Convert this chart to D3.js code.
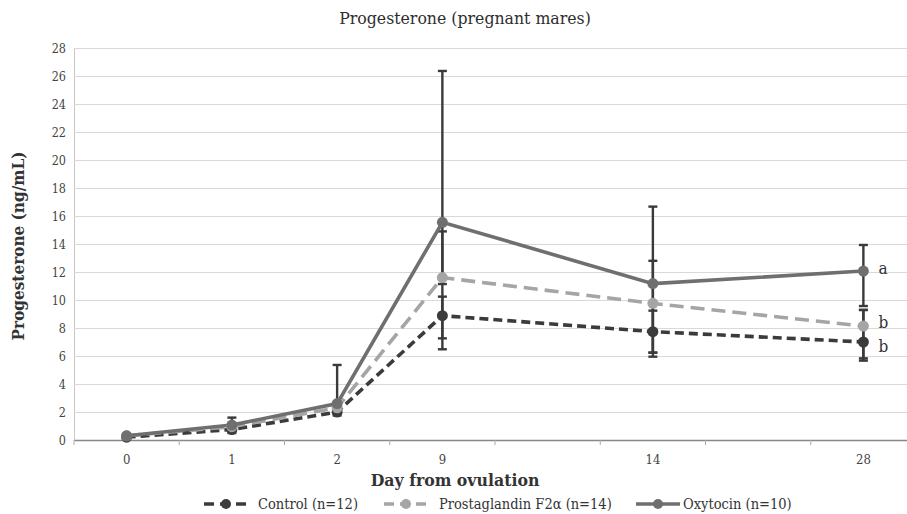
<!DOCTYPE html>
<html>
<head>
<meta charset="utf-8">
<script src="https://cdn.jsdelivr.net/npm/d3@7"></script>
<style>
  body { margin: 0; background: #fff; }
  svg { display: block; }
</style>
</head>
<body>
<div id="chart"></div>
<script>
const WIDTH = 907
const HEIGHT = 514
const FONT = '"DejaVu Serif Condensed", "DejaVu Serif", serif'

// category slots of the original axis (blank slots keep the spacing)
const slots = ['0', '1', '2', '9', '', '14', '', '28']
const days = ['0', '1', '2', '9', '14', '28']
const yTicks = [0, 2, 4, 6, 8, 10, 12, 14, 16, 18, 20, 22, 24, 26, 28]

const control = [0.2, 0.75, 2.0, 8.88, 7.74, 7.0]
const prostaglandin = [0.3, 0.95, 2.3, 11.6, 9.76, 8.14]
const oxytocin = [0.3, 1.07, 2.6, 15.55, 11.17, 12.07]

// error bar ends (null = no bar)
const controlLo = [null, 0.5, 1.75, 6.48, 6.24, 5.67]
const controlHi = [null, null, null, 10.24, 9.24, 9.29]
const prostaglandinLo = [null, null, null, 7.26, 5.95, 5.83]
const prostaglandinHi = [null, null, null, 14.9, 12.8, 9.29]
const oxytocinLo = [null, null, null, 11.14, 6.24, 9.57]
const oxytocinHi = [0.45, 1.6, 5.36, 26.36, 16.67, 13.93]

const seriesNames = ['Control (n=12)', 'Prostaglandin F2α (n=14)', 'Oxytocin (n=10)']
const day28Letters = ['b', 'b', 'a']

const series = [
    { name: seriesNames[0], values: control, lo: controlLo, hi: controlHi, color: '#3b3b3b', dash: '9,5', letter: day28Letters[0], letterDy: 10 },
    { name: seriesNames[1], values: prostaglandin, lo: prostaglandinLo, hi: prostaglandinHi, color: '#a5a5a5', dash: '14,7', letter: day28Letters[1], letterDy: 2 },
    { name: seriesNames[2], values: oxytocin, lo: oxytocinLo, hi: oxytocinHi, color: '#6f6f6f', dash: null, letter: day28Letters[2], letterDy: 3 }
]

const margin = { top: 48, right: -9, bottom: 74, left: 74 }
const x = d3.scaleBand()
    .domain(d3.range(slots.length))
    .range([margin.left, WIDTH - margin.right])
const y = d3.scaleLinear()
    .domain([0, 28])
    .range([HEIGHT - margin.bottom, margin.top])

const xDay = d => x(slots.indexOf(d)) + x.bandwidth() / 2

const svg = d3.select('#chart').append('svg')
    .attr('width', WIDTH)
    .attr('height', HEIGHT)
    .style('font-family', FONT)

// title
svg.append('text')
    .attr('x', 465)
    .attr('y', 24)
    .attr('text-anchor', 'middle')
    .attr('font-size', 17.5)
    .attr('fill', '#2e2e2e')
    .text('Progesterone (pregnant mares)')

// gridlines + y axis
const yAxis = svg.append('g')
    .attr('transform', `translate(${margin.left},0)`)
    .call(d3.axisLeft(y).tickValues(yTicks).tickSize(-(WIDTH - margin.right - margin.left)).tickPadding(8))
yAxis.select('.domain').attr('stroke', '#c8c8c8')
yAxis.selectAll('.tick line').attr('stroke', '#d9d9d9')
yAxis.selectAll('.tick text')
    .attr('font-family', FONT)
    .attr('font-size', 12.5)
    .attr('fill', '#444')

// x axis with tick marks at slot boundaries
const xAxis = svg.append('g')
    .attr('transform', `translate(0,${y(0)})`)
    .call(d3.axisBottom(x).tickFormat(i => slots[i]).tickSize(0).tickPadding(15))
xAxis.select('.domain').attr('stroke', '#888').attr('stroke-width', 1.5)
xAxis.selectAll('.tick text')
    .attr('font-family', FONT)
    .attr('font-size', 13)
    .attr('fill', '#444')
xAxis.selectAll('line.slot')
    .data(d3.range(slots.length + 1))
    .join('line')
    .attr('class', 'slot')
    .attr('x1', i => margin.left + i * x.step())
    .attr('x2', i => margin.left + i * x.step())
    .attr('y1', 0)
    .attr('y2', 5)
    .attr('stroke', '#aaa')

// axis titles
svg.append('text')
    .attr('x', 455)
    .attr('y', 486)
    .attr('text-anchor', 'middle')
    .attr('font-size', 17.5)
    .attr('font-weight', 'bold')
    .attr('fill', '#333')
    .text('Day from ovulation')

svg.append('text')
    .attr('transform', `translate(24,${(y(0) + y(28)) / 2 + 2}) rotate(-90)`)
    .attr('text-anchor', 'middle')
    .attr('font-size', 17)
    .attr('font-weight', 'bold')
    .attr('fill', '#333')
    .text('Progesterone (ng/mL)')

// error bars
const capW = 4.5
series.forEach(s => {
    const g = svg.append('g').attr('stroke', '#3a3a3a').attr('stroke-width', 2.4)
    days.forEach((d, i) => {
        const cx = xDay(d)
        ;[s.lo[i], s.hi[i]].forEach(end => {
            if (end == null) return
            g.append('line')
                .attr('x1', cx).attr('x2', cx)
                .attr('y1', y(s.values[i])).attr('y2', y(end))
            g.append('line')
                .attr('x1', cx - capW).attr('x2', cx + capW)
                .attr('y1', y(end)).attr('y2', y(end))
        })
    })
})

// lines
const line = d3.line()
    .x((v, i) => xDay(days[i]))
    .y(v => y(v))

series.forEach(s => {
    svg.append('path')
        .datum(s.values)
        .attr('fill', 'none')
        .attr('stroke', s.color)
        .attr('stroke-width', 3.6)
        .attr('stroke-dasharray', s.dash)
        .attr('d', line)
})

// markers
series.forEach(s => {
    svg.append('g').selectAll('circle')
        .data(s.values)
        .join('circle')
        .attr('cx', (v, i) => xDay(days[i]))
        .attr('cy', v => y(v))
        .attr('r', 5.5)
        .attr('fill', s.color)
})

// significance letters at day 28
svg.append('g').selectAll('text')
    .data(series)
    .join('text')
    .attr('x', xDay('28') + 15)
    .attr('y', s => y(s.values[5]) + s.letterDy)
    .attr('font-size', 17)
    .attr('fill', '#333')
    .text(s => s.letter)

// legend
const legendX = [204, 384, 636]
const legendTextX = [54, 55, 47]
const legend = svg.append('g')
    .selectAll('g')
    .data(series)
    .join('g')
    .attr('transform', (s, i) => `translate(${legendX[i]},504)`)
legend.append('line')
    .attr('x1', 0).attr('x2', 44)
    .attr('stroke', s => s.color)
    .attr('stroke-width', 3.6)
    .attr('stroke-dasharray', s => s.dash ? '10,6' : null)
legend.append('circle')
    .attr('cx', 22)
    .attr('r', 5)
    .attr('fill', s => s.color)
legend.append('text')
    .attr('x', (s, i) => legendTextX[i])
    .attr('y', 5)
    .attr('font-size', 14.5)
    .attr('fill', '#333')
    .text(s => s.name)
</script>
</body>
</html>
